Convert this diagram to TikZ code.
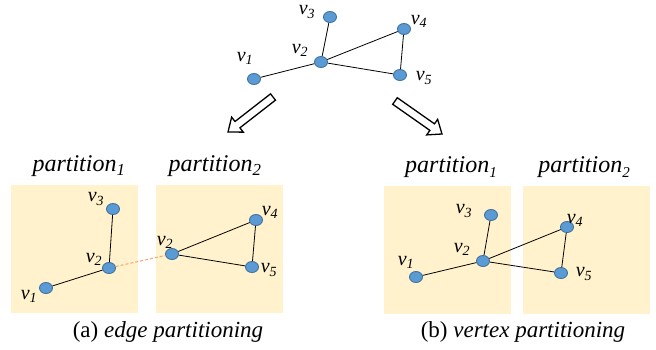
\documentclass[tikz,border=0pt]{standalone}
\usepackage{fontspec}
\setmainfont{Liberation Serif}
\usetikzlibrary{shapes.geometric,calc}
\definecolor{nodefill}{HTML}{5B9BD5}
\definecolor{nodeedge}{HTML}{41719C}
\definecolor{boxfill}{HTML}{FFF2CC}
\definecolor{cutline}{HTML}{F4A66F}
\newcommand\vlab[1]{v\textsubscript{#1}}
\newcommand\lowsub[1]{\raisebox{-0.45ex}{\fontsize{15}{15}\selectfont #1}}
\begin{document}
\begin{tikzpicture}[x=1pt,y=-1pt,
 vtx/.style={ellipse,draw=nodeedge,fill=nodefill,line width=0.9pt,minimum width=13pt,minimum height=11pt,inner sep=0pt},
 lbl/.style={font=\fontsize{20}{20}\selectfont\itshape,inner sep=0pt},
 ttl/.style={font=\fontsize{24}{24}\selectfont\itshape,inner sep=0pt},
 captext/.style={font=\fontsize{23}{23}\selectfont,inner sep=0pt},
 part/.style={fill=boxfill,draw=none,inner sep=0pt,minimum width=127pt,minimum height=128pt},
 gedge/.style={line width=0.8pt,black},
 cutedge/.style={line width=1pt,cutline,dash pattern=on 3pt off 2pt},
 bigarrow/.style={draw=black,line width=1.3pt,fill=white,line join=miter}]
\useasboundingbox (0,0) rectangle (656,349);

% ---- top graph ----
\node[vtx] (t1) at (254,79) {};
\node[vtx] (t2) at (321,62) {};
\node[vtx] (t3) at (330,17) {};
\node[vtx] (t4) at (404,29) {};
\node[vtx] (t5) at (400,75) {};
\draw[gedge] (t1) -- (t2);
\draw[gedge] (t3) -- (t2);
\draw[gedge] (t2) -- (t4);
\draw[gedge] (t2) -- (t5);
\draw[gedge] (t4) -- (t5);
\node[lbl] (lt1) at (245,58) {\vlab{1}};
\node[lbl] (lt2) at (300,50) {\vlab{2}};
\node[lbl] (lt3) at (307,12) {\vlab{3}};
\node[lbl] (lt4) at (419,21) {\vlab{4}};
\node[lbl] (lt5) at (424,78) {\vlab{5}};

% ---- block arrows ----
\coordinate (la0) at (273,97);
\coordinate (la1) at (228,132);
\coordinate (lah) at ($(la1)!12pt!(la0)$);
\draw[bigarrow] ($(la0)!4pt!90:(la1)$) -- ($(lah)!4pt!90:(la1)$) -- ($(lah)!9.5pt!90:(la1)$) -- (la1)
  -- ($(lah)!9.5pt!-90:(la1)$) -- ($(lah)!4pt!-90:(la1)$) -- ($(la0)!4pt!-90:(la1)$) -- cycle;
\coordinate (ra0) at (395,101);
\coordinate (ra1) at (442,134);
\coordinate (rah) at ($(ra1)!12pt!(ra0)$);
\draw[bigarrow] ($(ra0)!4pt!90:(ra1)$) -- ($(rah)!4pt!90:(ra1)$) -- ($(rah)!9.5pt!90:(ra1)$) -- (ra1)
  -- ($(rah)!9.5pt!-90:(ra1)$) -- ($(rah)!4pt!-90:(ra1)$) -- ($(ra0)!4pt!-90:(ra1)$) -- cycle;

% ---- (a) edge partitioning ----
\node[part] (pa1) at (74.5,249) {};
\node[part] (pa2) at (219,249) {};
\node[ttl] (tpa1) at (79,166) {partition\textsubscript{1}};
\node[ttl] (tpa2) at (215,166) {partition\textsubscript{2}};
\node[vtx] (a1) at (46,288) {};
\node[vtx] (a2) at (109,268) {};
\node[vtx] (a3) at (113,209) {};
\node[vtx] (b2) at (172,254) {};
\node[vtx] (b4) at (256,220) {};
\node[vtx] (b5) at (252,267) {};
\draw[gedge] (a1) -- (a2);
\draw[gedge] (a3) -- (a2);
\draw[cutedge] (a2) -- (b2);
\draw[gedge] (b2) -- (b4);
\draw[gedge] (b2) -- (b5);
\draw[gedge] (b4) -- (b5);
\node[lbl] (la1l) at (29,296) {\vlab{1}};
\node[lbl] (la2l) at (94,259) {\vlab{2}};
\node[lbl] (la3l) at (96,199) {\vlab{3}};
\node[lbl] (lb2l) at (165,242) {\vlab{2}};
\node[lbl] (lb4l) at (270,212) {\vlab{4}};
\node[lbl] (lb5l) at (269,270) {\vlab{5}};
\node[captext] (capa) at (168,332) {(a) \textit{edge partitioning}};

% ---- (b) vertex partitioning ----
\node[part] (pb1) at (447.5,249.5) {};
\node[part] (pb2) at (586.5,249.5) {};
\node[ttl] (tpb1) at (451,167) {partition\lowsub{1}};
\node[ttl] (tpb2) at (584,167) {partition\lowsub{2}};
\node[vtx] (c1) at (416,277) {};
\node[vtx] (c2) at (483,261) {};
\node[vtx] (c3) at (491,215) {};
\node[vtx] (c4) at (567,227) {};
\node[vtx] (c5) at (561,273) {};
\draw[gedge] (c1) -- (c2);
\draw[gedge] (c3) -- (c2);
\draw[gedge] (c2) -- (c4);
\draw[gedge] (c2) -- (c5);
\draw[gedge] (c4) -- (c5);
\node[lbl] (lc1) at (406,262) {\vlab{1}};
\node[lbl] (lc2) at (462,249) {\vlab{2}};
\node[lbl] (lc3) at (464,211) {\vlab{3}};
\node[lbl] (lc4) at (575,220) {\vlab{4}};
\node[lbl] (lc5) at (584,274) {\vlab{5}};
\node[captext] (capb) at (523,332) {(b) \textit{vertex partitioning}};
\end{tikzpicture}
\end{document}
